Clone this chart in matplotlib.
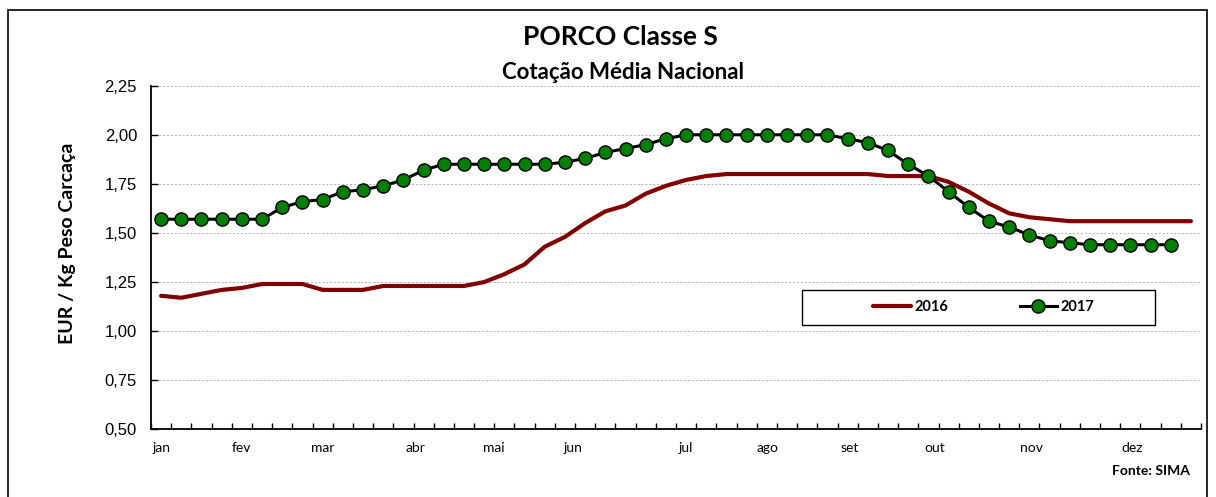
import numpy as np
import matplotlib
matplotlib.use("Agg")
from matplotlib import pyplot as plt
from matplotlib.patches import Rectangle

# weekly prices, EUR / kg carcass
preco_2016 = [1.18, 1.17, 1.19, 1.21, 1.22, 1.24, 1.24, 1.24, 1.21, 1.21,
              1.21, 1.23, 1.23, 1.23, 1.23, 1.23, 1.25, 1.29, 1.34, 1.43,
              1.48, 1.55, 1.61, 1.64, 1.70, 1.74, 1.77, 1.79, 1.80, 1.80,
              1.80, 1.80, 1.80, 1.80, 1.80, 1.80, 1.79, 1.79, 1.79, 1.76,
              1.71, 1.65, 1.60, 1.58, 1.57, 1.56, 1.56, 1.56, 1.56, 1.56,
              1.56, 1.56]
preco_2017 = [1.57, 1.57, 1.57, 1.57, 1.57, 1.57, 1.63, 1.66, 1.67, 1.71,
              1.72, 1.74, 1.77, 1.82, 1.85, 1.85, 1.85, 1.85, 1.85, 1.85,
              1.86, 1.88, 1.91, 1.93, 1.95, 1.98, 2.00, 2.00, 2.00, 2.00,
              2.00, 2.00, 2.00, 2.00, 1.98, 1.96, 1.92, 1.85, 1.79, 1.71,
              1.63, 1.56, 1.53, 1.49, 1.46, 1.45, 1.44, 1.44, 1.44, 1.44,
              1.44]
meses = ["jan", "fev", "mar", "abr", "mai", "jun",
         "jul", "ago", "set", "out", "nov", "dez"]
# week index under which each month label sits
semana_mes = [0, 4, 8, 12.6, 16.5, 20.4, 26, 30.05, 34.1, 38.3, 43.1, 48.1]
n_semanas = 52

W, H = 1216, 497
fig = plt.figure(figsize=(W / 100, H / 100), dpi=100)
ax = fig.add_axes([151 / W, 67.7 / H, 1050 / W, 343.6 / H])

# outer chart border (bottom edge falls outside the picture)
fig.patches.append(Rectangle((8 / W, -0.02), 1199 / W, 1 - 10 / H + 0.02,
                             transform=fig.transFigure, fill=False,
                             edgecolor="black", linewidth=1.2))

x16 = np.arange(len(preco_2016))
x17 = np.arange(len(preco_2017))
ax.plot(x16, preco_2016, color="#800000", linewidth=3.0,
        solid_capstyle="round", label="2016", zorder=3)
ax.plot(x17, preco_2017, color="black", linewidth=2.2, marker="o",
        markersize=9.5, markerfacecolor="#008000", markeredgecolor="black",
        markeredgewidth=1.0, label="2017", zorder=4)

ax.set_xlim(-0.5, n_semanas - 0.5)
ax.set_ylim(0.5, 2.25)

yt = np.arange(0.5, 2.26, 0.25)
ax.set_yticks(yt)
ax.set_yticklabels([f"{v:.2f}".replace(".", ",") for v in yt],
                   fontfamily="Liberation Sans", fontsize=12)
ax.yaxis.grid(True, color="#b0b0b0", linestyle=(0, (2, 2)), linewidth=0.7)
ax.set_axisbelow(True)

ax.xaxis.remove_overlapping_locs = False
ax.set_xticks(np.arange(n_semanas + 1) - 0.5)
ax.set_xticklabels([])
ax.set_xticks(semana_mes, minor=True)
ax.set_xticklabels(meses, minor=True, fontfamily="Lato", fontsize=10)
ax.tick_params(axis="x", which="major", direction="in", length=4, width=1)
ax.tick_params(axis="x", which="minor", length=0, pad=9)
ax.tick_params(axis="y", direction="in", length=5, width=1, pad=10)

for s in ["top", "right"]:
    ax.spines[s].set_visible(False)
for s in ["left", "bottom"]:
    ax.spines[s].set_linewidth(1.3)

fig.text(68 / W, 1 - 243 / H, "EUR / Kg Peso Carcaça", rotation=90,
         ha="center", va="center", fontfamily="Lato", fontweight="bold",
         fontsize=14)

fig.text(620 / W, 1 - 37 / H, "PORCO Classe S", ha="center", va="center",
         fontfamily="Lato", fontweight="bold", fontsize=19)
fig.text(623 / W, 1 - 72 / H, "Cotação Média Nacional", ha="center",
         va="center", fontfamily="Lato", fontweight="bold", fontsize=16)
fig.text(1190 / W, 1 - 471 / H, "Fonte: SIMA", ha="right", va="center",
         fontfamily="Lato", fontweight="bold", fontsize=10)

# legend box drawn separately, entries placed inside it
ax.add_patch(Rectangle((0.62, 0.3035), 0.3362, 0.1019,
                       transform=ax.transAxes, facecolor="white",
                       edgecolor="black", linewidth=1.0, zorder=5))
leg = ax.legend(loc="center left", bbox_to_anchor=(0.681, 0.3545),
                ncol=2, frameon=False, borderpad=0, handlelength=2.6,
                handletextpad=0.2, columnspacing=4.9,
                prop={"family": "Lato", "weight": "bold", "size": 10.5})
leg.set_zorder(6)

fig.savefig("out.png", dpi=100)
